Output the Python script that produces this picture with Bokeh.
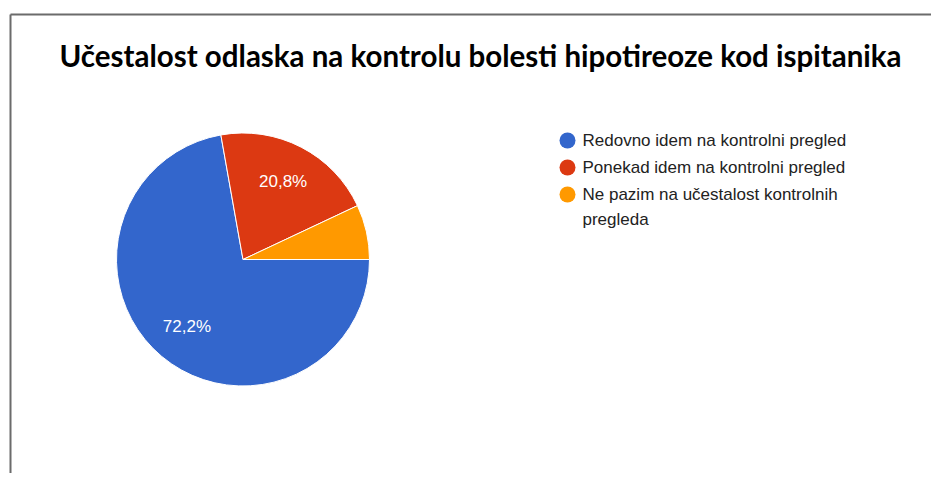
import math
from bokeh.plotting import figure
from bokeh.models import Range1d, ColumnDataSource
from bokeh.core.properties import value
from bokeh.embed import file_html
from bokeh.resources import INLINE

# ---- data ----
title_text = "Učestalost odlaska na kontrolu bolesti hipotireoze kod ispitanika"
categories = [
    "Redovno idem na kontrolni pregled",
    "Ponekad idem na kontrolni pregled",
    "Ne pazim na učestalost kontrolnih pregleda",
]
legend_lines = [
    ["Redovno idem na kontrolni pregled"],
    ["Ponekad idem na kontrolni pregled"],
    ["Ne pazim na učestalost kontrolnih", "pregleda"],
]
shares = [72.2, 20.8, 7.0]
slice_labels = ["72,2%", "20,8%", ""]
colors = ["#3366CC", "#DC3912", "#FF9900"]

W, H = 931, 473
p = figure(width=W, height=H, output_backend="svg", toolbar_location=None,
           x_range=Range1d(0, W), y_range=Range1d(0, H),
           min_border=0, min_border_left=0, min_border_right=0,
           min_border_top=0, min_border_bottom=0)
p.xaxis.visible = False
p.yaxis.visible = False
p.grid.visible = False
p.outline_line_color = None
p.background_fill_color = "white"
p.border_fill_color = "white"

def Y(cy):  # canvas-top based y -> data y
    return H - cy

# frame lines (screenshot border)
p.segment(x0=[10, 10], y0=[Y(14), Y(14)], x1=[10, W], y1=[0, Y(14)],
          line_color="#6b6b6b", line_width=2)

# title
p.text(x=[480], y=[Y(55)], text=[title_text], text_align="center",
       text_baseline="middle", text_font=value("Lato"),
       text_font_size="29.5px", text_font_style="bold", text_color="#000000")

# pie
cx, cy, r = 242.5, Y(259), 126.5
total = sum(shares)
starts, ends, mids = [], [], []
acc = 0.0
for s in shares:
    a0 = -2 * math.pi * acc / total
    acc += s
    a1 = -2 * math.pi * acc / total
    starts.append(a0)
    ends.append(a1)
    mids.append((a0 + a1) / 2)

src = ColumnDataSource(dict(start=starts, end=ends, color=colors,
                            x=[cx] * 3, y=[cy] * 3))
p.wedge(x="x", y="y", radius=r, start_angle="start", end_angle="end",
        direction="clock", fill_color="color", line_color="white",
        line_width=1, source=src)

lx = [cx + 0.69 * r * math.cos(m) for m in mids]
ly = [cy + 0.69 * r * math.sin(m) for m in mids]
p.text(x=lx, y=ly, text=slice_labels, text_align="center",
       text_baseline="middle", text_font=value("Liberation Sans"),
       text_font_size="17px", text_color="white")

# legend
leg_x = 567
row_y = [140, 167, 194]
wrap = 25
cy_rows, tx, ty, tt = [], [], [], []
for i, lines in enumerate(legend_lines):
    cy_rows.append(Y(row_y[i]))
    for j, ln in enumerate(lines):
        tx.append(leg_x + 15)
        ty.append(Y(row_y[i] + j * wrap))
        tt.append(ln)
p.scatter(x=[leg_x] * 3, y=cy_rows, size=16, marker="circle",
          fill_color=colors, line_color=None)
p.text(x=tx, y=ty, text=tt, text_align="left", text_baseline="middle",
       text_font=value("Liberation Sans"), text_font_size="17px",
       text_color="#222222")

open("out.html", "w").write(file_html(p, INLINE))
